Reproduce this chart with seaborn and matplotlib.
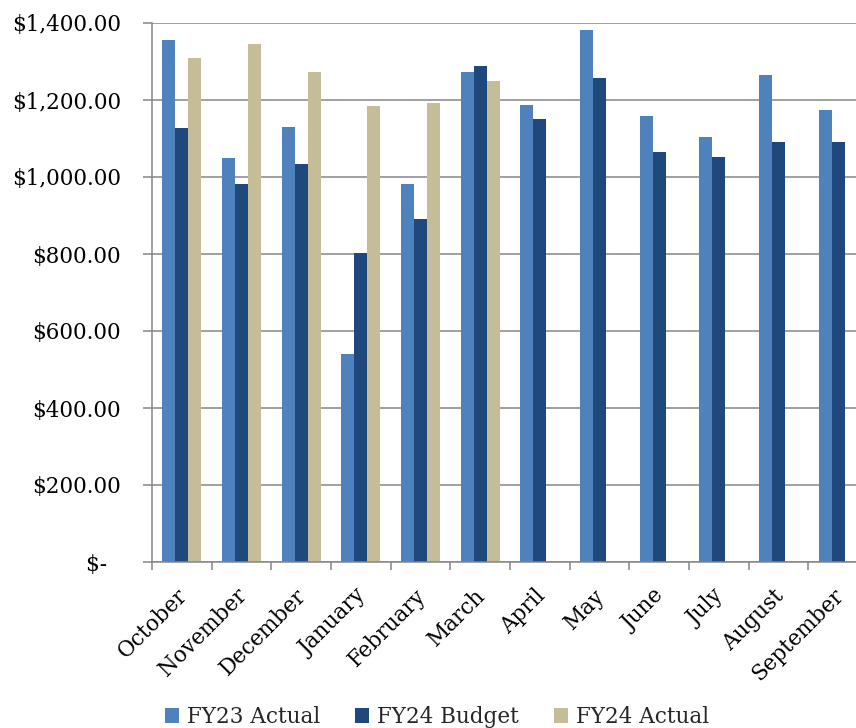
import matplotlib
matplotlib.use("Agg")
import matplotlib.pyplot as plt
import matplotlib.transforms as mtransforms
from matplotlib.ticker import FuncFormatter, FixedLocator
import numpy as np
import pandas as pd
import seaborn as sns

months = ["October", "November", "December", "January", "February", "March",
          "April", "May", "June", "July", "August", "September"]
fy23_actual = [1355, 1049, 1129, 539, 981, 1274, 1187, 1381, 1159, 1103, 1265, 1175]
fy24_budget = [1128, 983, 1035, 802, 892, 1288, 1150, 1256, 1065, 1051, 1091, 1092]
fy24_actual = [1310, 1345, 1274, 1184, 1193, 1250]
series_names = ["FY23 Actual", "FY24 Budget", "FY24 Actual"]
colors = ["#4F81BD", "#1F497D", "#C4BD97"]

rows = []
for name, vals in zip(series_names, [fy23_actual, fy24_budget, fy24_actual]):
    for m, v in zip(months, vals):
        rows.append({"Month": m, "Series": name, "Value": v})
df = pd.DataFrame(rows)

sns.set_theme(style="white")
plt.rcParams["font.family"] = ["DejaVu Serif"]

fig = plt.figure(figsize=(8.56, 7.28), dpi=100)
ax = fig.add_axes([152 / 856, 166 / 728, 716 / 856, 539 / 728])

sns.barplot(data=df, x="Month", y="Value", hue="Series", order=months,
            hue_order=series_names, palette=colors, width=0.65,
            errorbar=None, ax=ax, saturation=1, linewidth=0)

grid_c = "#868686"
ax.set_ylim(0, 1400)
ax.set_xlim(-0.5, len(months) - 0.5)
ax.yaxis.set_major_locator(FixedLocator(np.arange(0, 1401, 200)))
ax.yaxis.set_major_formatter(FuncFormatter(
    lambda v, p: "$-  " if v == 0 else f"${v:,.2f}"))
ax.grid(axis="y", color=grid_c, linewidth=1.1)
ax.set_axisbelow(True)
for s in ["top", "right"]:
    ax.spines[s].set_visible(False)
for s in ["left", "bottom"]:
    ax.spines[s].set_color(grid_c)
    ax.spines[s].set_linewidth(1.1)

ax.tick_params(axis="y", which="major", length=6.5, width=1.1, color=grid_c,
               direction="out", left=True, labelsize=15.5, pad=16, labelcolor="black")
ax.set_xticks(np.arange(-0.5, len(months), 1.0), minor=True)
ax.tick_params(axis="x", which="minor", length=6, width=1.1, color=grid_c,
               direction="out", bottom=True)
ax.tick_params(axis="x", which="major", length=0, labelsize=15.5, pad=22,
               labelcolor="black")
ax.set_xticks(range(len(months)))
ax.set_xticklabels(months, rotation=45, ha="right", va="center",
                   rotation_mode="anchor")
offset = mtransforms.ScaledTranslation(2 / 100, 0, fig.dpi_scale_trans)
for lbl in ax.get_xticklabels():
    lbl.set_transform(lbl.get_transform() + offset)

ax.set_xlabel("")
ax.set_ylabel("")

handles, labels = ax.get_legend_handles_labels()
ax.get_legend().remove()
fig.legend(handles, labels, loc="center", ncol=3, frameon=False,
           bbox_to_anchor=(437 / 856, 11 / 728), fontsize=15.5,
           handlelength=0.65, handleheight=0.65, handletextpad=0.4,
           columnspacing=1.6, borderaxespad=0)

fig.savefig("out.png", dpi=100)
